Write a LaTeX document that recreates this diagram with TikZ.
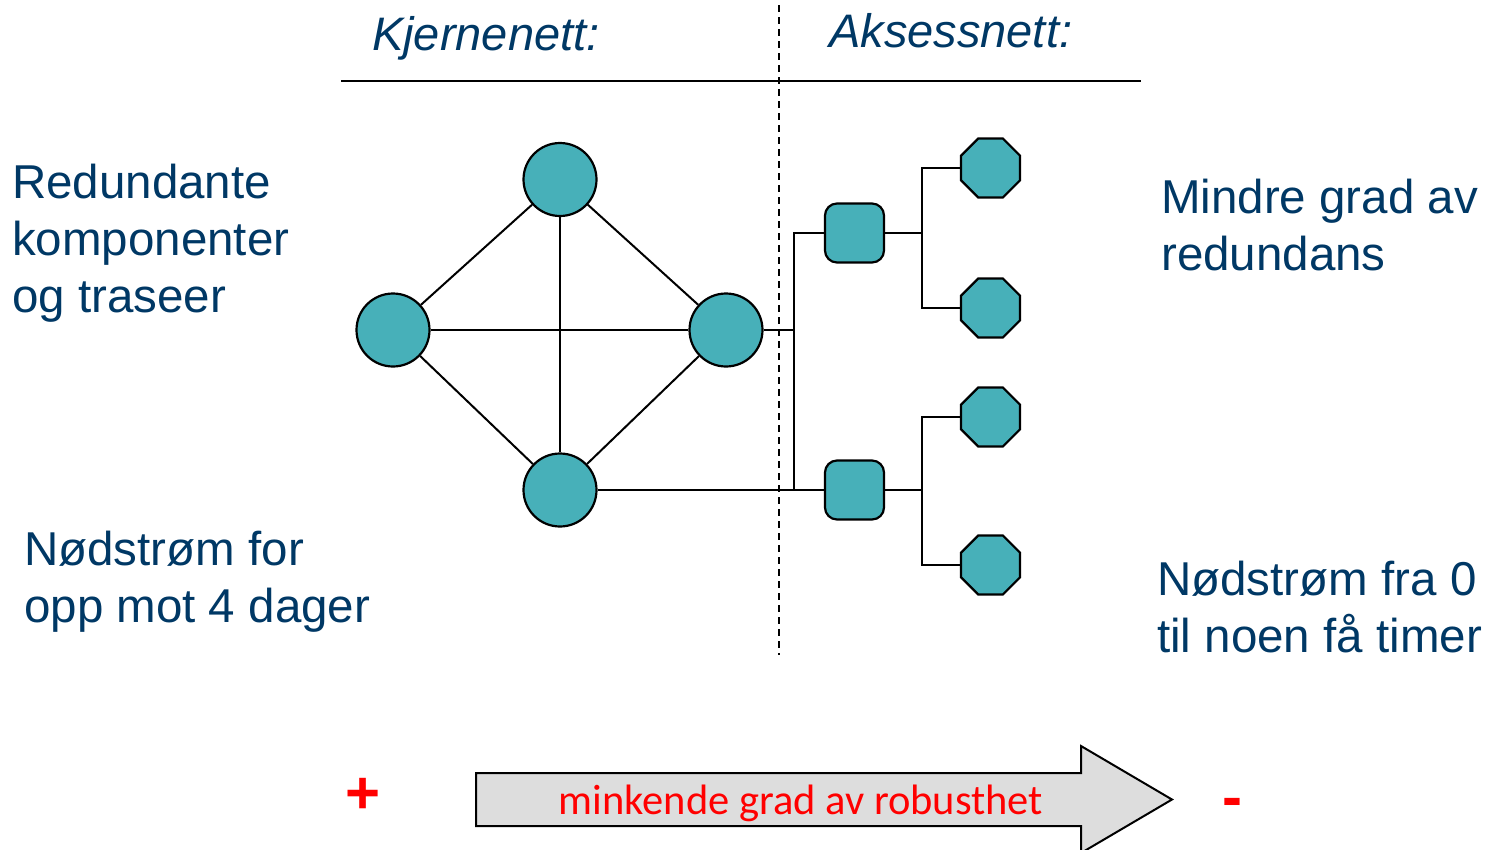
\documentclass[tikz,border=0pt]{standalone}
\usepackage{fontspec}
\setmainfont{Liberation Sans}
\newfontfamily\calib{Carlito}
\usetikzlibrary{shapes.geometric}
\definecolor{teal1}{RGB}{71,176,185}
\definecolor{navy1}{RGB}{0,56,101}
\definecolor{grey1}{RGB}{221,221,221}
\begin{document}
\begin{tikzpicture}[x=1pt,y=-1pt,
  bigtext/.style={font=\fontsize{47.5}{57}\selectfont, text=navy1, align=left, inner sep=0pt, anchor=base west},
  headtext/.style={font=\fontsize{47}{56.5}\selectfont\itshape, text=navy1, inner sep=0pt, anchor=base west},
  corenode/.style={circle, draw=black, line width=2.2pt, fill=teal1, minimum size=73pt, inner sep=0pt},
  accnode/.style={rectangle, rounded corners=12pt, draw=black, line width=2.2pt, fill=teal1, minimum size=59pt, inner sep=0pt},
  endnode/.style={regular polygon, regular polygon sides=8, draw=black, line width=2.2pt, fill=teal1, minimum size=64pt, inner sep=0pt},
  link/.style={draw=black, line width=2pt},
  signtext/.style={font=\fontsize{60}{60}\selectfont\bfseries, text=red, inner sep=0pt}
]
\useasboundingbox (0,0) rectangle (1490,849);

% headers
\node[headtext] (kj) at (372,50) {Kjernenett:};
\node[headtext] (ak) at (829,47) {Aksessnett:};
\coordinate (hl) at (341,81);
\coordinate (hr) at (1141,81);
\draw[line width=2pt] (hl) -- (hr);
\coordinate (dt) at (779,5);
\coordinate (db) at (779,655);
\draw[line width=1.6pt, dash pattern=on 7pt off 5pt] (dt) -- (db);

% core network
\node[corenode] (T) at (560,179.5) {};
\node[corenode] (L) at (393,330) {};
\node[corenode] (R) at (726,330) {};
\node[corenode] (B) at (560,490) {};
\draw[link] (T) -- (L);
\draw[link] (T) -- (R);
\draw[link] (T) -- (B);
\draw[link] (L) -- (R);
\draw[link] (L) -- (B);
\draw[link] (R) -- (B);

% access network
\node[accnode] (S1) at (854.5,233) {};
\node[accnode] (S2) at (854.5,490) {};
\node[endnode] (O1) at (990.5,168) {};
\node[endnode] (O2) at (990.5,308) {};
\node[endnode] (O3) at (990.5,417) {};
\node[endnode] (O4) at (990.5,565) {};
\coordinate (busT) at (794,233);
\coordinate (busM) at (794,330);
\coordinate (busB) at (794,490);
\coordinate (br1) at (922,233);
\coordinate (br2) at (922,490);
\draw[link] (R) -- (busM);
\draw[link] (S1.west) -- (busT) -- (busB);
\draw[link] (B) -- (S2.west);
\draw[link] (S1.east) -- (br1);
\draw[link] (S2.east) -- (br2);
\draw[link] (O1.west) -| (br1) |- (O2.west);
\draw[link] (O3.west) -| (br2) |- (O4.west);

% side texts (anchor = baseline of last line)
\node[bigtext] (t1) at (12,312) {Redundante\\komponenter\\og traseer};
\node[bigtext] (t2) at (24,622) {Nødstrøm for\\opp mot 4 dager};
\node[bigtext] (t3) at (1161,270) {Mindre grad av\\redundans};
\node[bigtext] (t4) at (1157,652) {Nødstrøm fra 0\\til noen få timer};

% bottom arrow
\draw[line width=2pt, fill=grey1] (476,773) -- (1081,773) -- (1081,746) -- (1172,799.5) -- (1081,853) -- (1081,826) -- (476,826) -- cycle;
\node[font=\calib\fontsize{42.5}{42.5}\selectfont, text=red, inner sep=0pt, anchor=base] (at) at (801,814) {minkende grad av robusthet};
\node[signtext] (plus) at (363,796) {+};
\node[signtext] (minus) at (1232,808) {-};
\end{tikzpicture}
\end{document}
